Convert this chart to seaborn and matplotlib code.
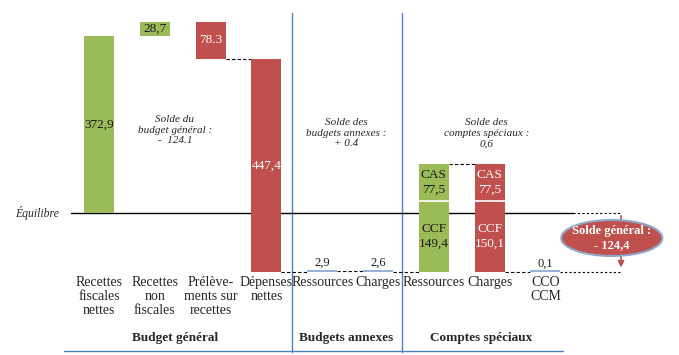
import numpy as np
import matplotlib
matplotlib.use("Agg")
import matplotlib.pyplot as plt
from matplotlib.patches import Ellipse
import seaborn as sns

# waterfall data (Md€)
categories = ["Recettes\nfiscales\nnettes", "Recettes\nnon\nfiscales", "Prélève-\nments sur\nrecettes",
              "Dépenses\nnettes", "Ressources", "Charges", "Ressources", "Charges", "CCO\nCCM"]
values = [372.9, 28.7, -78.3, -447.4, 2.9, -2.6, 226.9, -227.6, 0.1]
value_labels = ["372,9", "28,7", "78.3", "447,4", "2,9", "2,6", "", "", "0,1"]
kinds = ["green", "green", "red", "red", "blue", "blue", "green", "red", "blue"]
cs_ccf = [149.4, 150.1]
cs_cas = [77.5, 77.5]
cs_ccf_labels = ["CCF\n149,4", "CCF\n150,1"]
cs_cas_labels = ["CAS\n77,5", "CAS\n77,5"]
groups = ["Budget général", "Budgets annexes", "Comptes spéciaux"]
soldes = ["Solde du\nbudget général :\n-  124.1", "Solde des\nbudgets annexes :\n+ 0.4",
          "Solde des\ncomptes spéciaux :\n0,6"]
solde_general = "Solde général :\n- 124,4"

colors = {"green": "#9BBB59", "red": "#C0504D", "blue": "#95B3D7"}
sep_color = "#4F81BD"

sns.set_theme(style="white")
plt.rcParams["font.family"] = ["Liberation Serif", "DejaVu Serif"]

fig = plt.figure(figsize=(6.79, 3.55), dpi=100)
ax = fig.add_axes([0, 0, 1, 1])
ax.set_xlim(-1.774, 10.394)
ax.set_ylim(-298.3, 447.5)
ax.axis("off")

x = np.arange(len(values))
w = 0.54
start = np.concatenate([[0], np.cumsum(values)[:-1]])
end = np.cumsum(values)

for i in range(len(values)):
    lo, hi = min(start[i], end[i]), max(start[i], end[i])
    h = max(hi - lo, 4.5)
    ax.bar(x[i], h, bottom=lo, width=w, color=colors[kinds[i]], linewidth=0, zorder=3)
    txt_col = "white" if kinds[i] == "red" else "#1a1a1a"
    if kinds[i] == "blue":
        ax.text(x[i], hi + 5, value_labels[i], ha="center", va="bottom", fontsize=9, color="#1a1a1a")
    elif value_labels[i]:
        ax.text(x[i], (lo + hi) / 2, value_labels[i], ha="center", va="center", fontsize=9.5,
                color=txt_col, zorder=4)

# comptes speciaux split CCF / CAS
split_res = start[6] + cs_ccf[0]
split_chg = start[7] - cs_cas[1]
for xi, sp, lo_seg, hi_seg, k in [(6, split_res, start[6], end[6], 0), (7, split_chg, end[7], start[7], 1)]:
    ax.plot([xi - w / 2, xi + w / 2], [sp, sp], color="white", lw=1.2, zorder=4)
    col = "white" if k == 1 else "#1a1a1a"
    ax.text(xi, (lo_seg + sp) / 2, cs_ccf_labels[k], ha="center", va="center", fontsize=9.5,
            color=col, linespacing=1.3, zorder=5)
    ax.text(xi, (sp + hi_seg) / 2, cs_cas_labels[k], ha="center", va="center", fontsize=9.5,
            color=col, linespacing=1.3, zorder=5)

# dashed connectors
for i in range(2, len(values) - 1):
    ax.plot([x[i] + w / 2, x[i + 1] - w / 2], [end[i], end[i]], color="black", lw=0.8,
            ls=(0, (3, 2)), zorder=2)

# equilibrium line
ax.plot([-0.5, 8.5], [0, 0], color="black", lw=1, zorder=2)
ax.plot([8.5, 9.355], [0, 0], color="black", lw=0.8, ls=(0, (2, 2)), zorder=2)
ax.text(-1.11, 0, "Équilibre", ha="center", va="center", fontsize=8.5, style="italic")

# final balance
ax.plot([x[8] + w / 2, 9.355], [end[8], end[8]], color="black", lw=0.8, ls=(0, (2, 2)), zorder=2)
ax.annotate("", xy=(9.355, end[8] + 4), xytext=(9.355, 0),
            arrowprops=dict(arrowstyle="-|>", color=colors["red"], lw=1.2, mutation_scale=9), zorder=3)
ax.add_patch(Ellipse((9.19, -52.5), 1.81, 75.6, facecolor=colors["red"], edgecolor="#8EA7C8",
                     lw=1.5, zorder=5))
ax.text(9.19, -52.5, solde_general, ha="center", va="center", fontsize=9, color="white",
        weight="bold", zorder=6)

# separators
for sx in [3.453, 5.435]:
    ax.plot([sx, sx], [420, -292], color=sep_color, lw=1, zorder=1)
ax.plot([-0.627, 8.315], [-290, -290], color=sep_color, lw=1, zorder=1)

# category labels
for i, c in enumerate(categories):
    ax.text(x[i], -133, c, ha="center", va="top", fontsize=10, linespacing=1.1)

# group labels and soldes
for gx, g in zip([1.36, 4.43, 6.85], groups):
    ax.text(gx, -262.6, g, ha="center", va="center", fontsize=9.5, weight="bold")
for (sx, sy), s in zip([(1.36, 174), (4.43, 168), (6.95, 168)], soldes):
    ax.text(sx, sy, s, ha="center", va="center", fontsize=8, style="italic", linespacing=1.2)

fig.savefig("out.png", dpi=100)
